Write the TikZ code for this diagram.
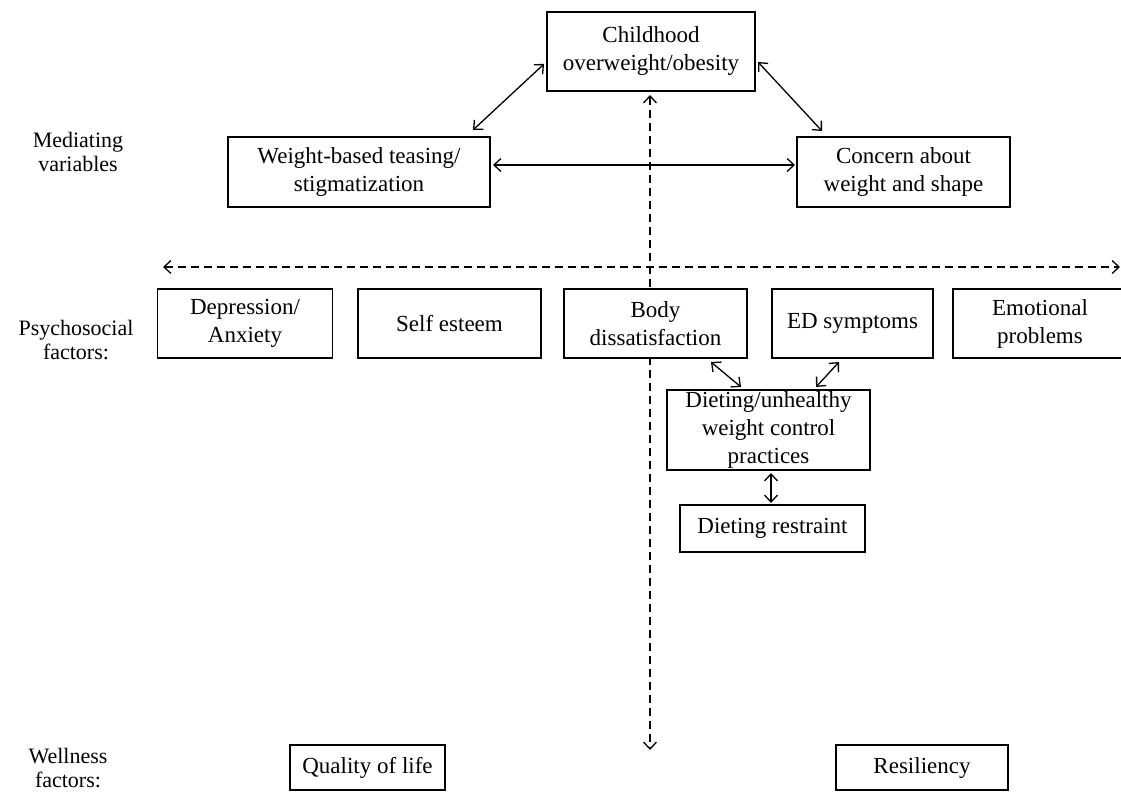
\documentclass[tikz,border=0pt]{standalone}
\usepackage{fontspec}
\setmainfont{Liberation Serif}
\usetikzlibrary{arrows.meta}
\begin{document}
\begin{tikzpicture}[x=1pt,y=-1pt,
  box/.style={draw, fill=white, line width=1.4pt, align=center, inner sep=0pt, font=\fontsize{23}{28}\selectfont},
  lab/.style={align=center, font=\fontsize{22}{24}\selectfont},
  tip/.tip={Straight Barb[length=7pt,width=13pt]},
  arr/.style={line width=1.3pt, tip-tip},
  darr/.style={line width=1.3pt, dash pattern=on 8pt off 5pt, tip-tip}
]
\useasboundingbox (0,0) rectangle (1121,794);
% dashed axes (drawn first, boxes cover them)
\coordinate (hl) at (163,267);
\coordinate (hr) at (1120,267);
\coordinate (vt) at (650,95);
\coordinate (vb) at (650,750);
\draw[darr] (hl) -- (hr);
\draw[darr] (vt) -- (vb);
% mediating
\node[box, minimum width=208pt, minimum height=79pt] (child) at (651,51.5) {Childhood\\overweight/obesity};
\node[box, minimum width=262pt, minimum height=70pt] (tease) at (359,172) {Weight-based teasing/\\stigmatization};
\node[box, minimum width=213pt, minimum height=70pt] (concern) at (903.5,172) {Concern about\\weight and shape};
% psychosocial
\node[box, minimum width=175pt, minimum height=69pt] (dep) at (245,323.5) {Depression/\\Anxiety};
\node[box, minimum width=183pt, minimum height=69pt] (self) at (449.5,323.5) {Self esteem};
\node[box, minimum width=183pt, minimum height=69pt] (body) at (655.5,323.5) {Body\\dissatisfaction};
\node[box, minimum width=161pt, minimum height=69pt] (ed) at (852.5,323.5) {ED symptoms};
\node[box, minimum width=174pt, minimum height=69pt] (emo) at (1040,323.5) {Emotional\\problems};
\node[box, minimum width=203pt, minimum height=80pt] (diet) at (768.5,430) {Dieting/unhealthy\\weight control\\practices};
\node[box, minimum width=185pt, minimum height=47pt] (restr) at (772.5,528.5) {Dieting restraint};
% wellness
\node[box, minimum width=155pt, minimum height=45pt] (qol) at (367.5,767.5) {Quality of life};
\node[box, minimum width=172pt, minimum height=45pt] (res) at (922,767.5) {Resiliency};
% side labels
\node[lab] (l1) at (78,152) {Mediating\\variables};
\node[lab] (l2) at (76,340) {Psychosocial\\factors:};
\node[lab] (l3) at (68,768) {Wellness\\factors:};
% solid arrows
\coordinate (a1) at (473,130);
\coordinate (a2) at (544,64);
\draw[arr] (a1) -- (a2);
\coordinate (b1) at (758,62);
\coordinate (b2) at (822,131);
\draw[arr] (b1) -- (b2);
\coordinate (c1) at (493,165);
\coordinate (c2) at (795,165);
\draw[arr] (c1) -- (c2);
\coordinate (d1) at (711,362);
\coordinate (d2) at (741,387);
\draw[arr] (d1) -- (d2);
\coordinate (e1) at (839,362);
\coordinate (e2) at (816,387);
\draw[arr] (e1) -- (e2);
\coordinate (f1) at (771,473);
\coordinate (f2) at (771,503);
\draw[arr] (f1) -- (f2);
\end{tikzpicture}
\end{document}
